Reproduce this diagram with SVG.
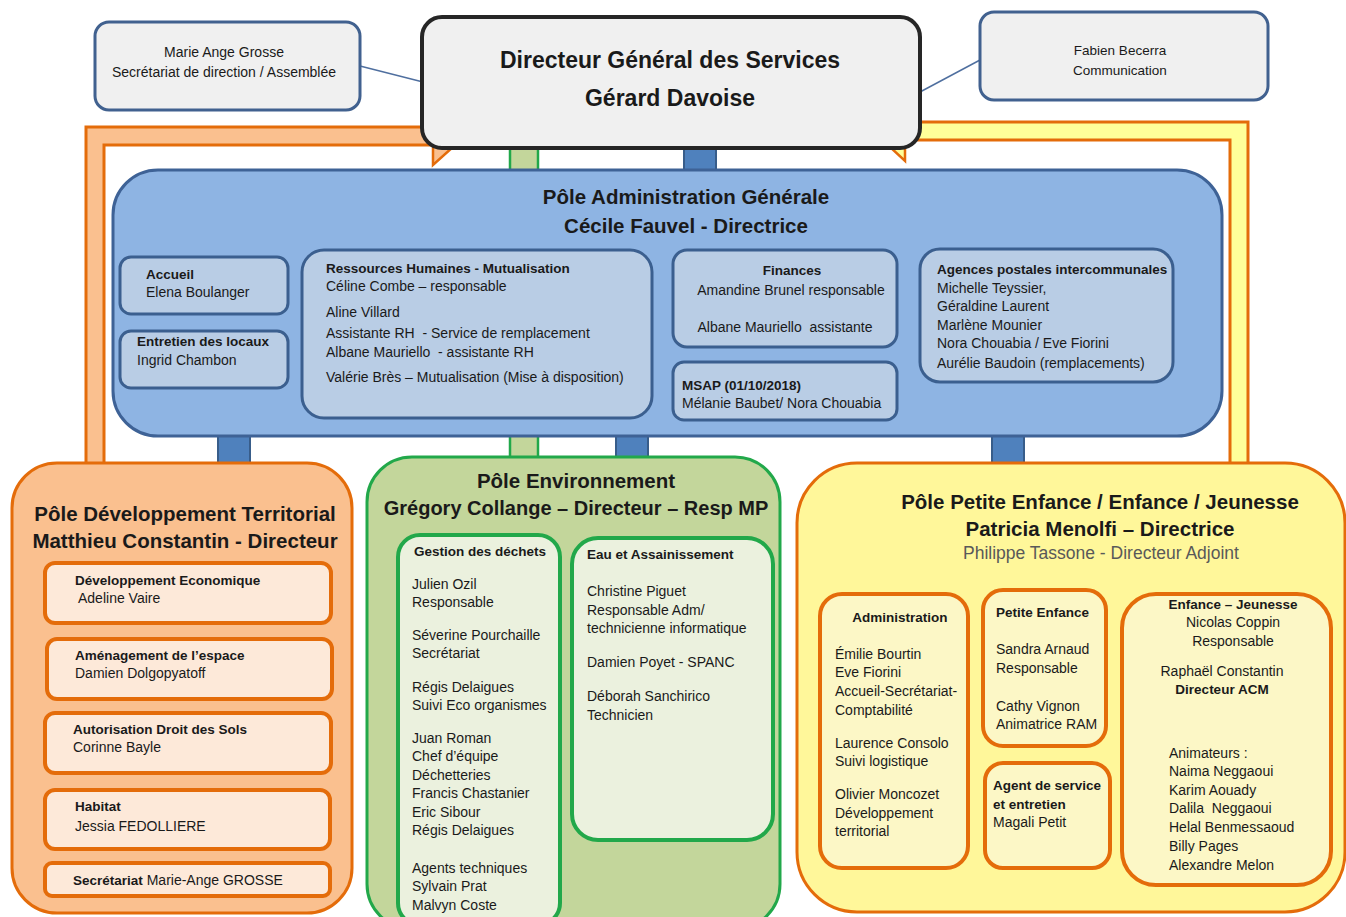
<svg xmlns="http://www.w3.org/2000/svg" width="1346" height="917" viewBox="0 0 1346 917">
<style>
text{font-family:"Liberation Sans",Arial,sans-serif;fill:#1a1a1a}
.t{font-size:14px}
.b{font-size:13.5px;font-weight:bold}
.h{font-size:20.5px;font-weight:bold}
.c{text-anchor:middle}
.side{fill:#f0f0f0;stroke:#41618f;stroke-width:3}
.adm{fill:#8eb4e3;stroke:#3e6296;stroke-width:3}
.admi{fill:#b9cde5;stroke:#3b5f8f;stroke-width:3}
.dev{fill:#fac08f;stroke:#e46c0a;stroke-width:3}
.devi{fill:#fde9d9;stroke:#e46c0a;stroke-width:4}
.env{fill:#c3d69b;stroke:#22a84a;stroke-width:3}
.envi{fill:#ebf1de;stroke:#22a84a;stroke-width:4}
.pe{fill:#fff79a;stroke:#e46c0a;stroke-width:3}
.pei{fill:#fcf7c6;stroke:#e46c0a;stroke-width:4}
.cb{fill:#4f81bd;stroke:#385d8a;stroke-width:2}
.cg{fill:#c3d69b;stroke:#22a84a;stroke-width:2.5}
</style>
<rect width="1346" height="917" fill="#ffffff"/>
<g id="connectors">
  <line x1="360" y1="66" x2="423" y2="82" stroke="#4f6f9f" stroke-width="1.5"/>
  <line x1="980" y1="60" x2="920" y2="92" stroke="#4f6f9f" stroke-width="1.5"/>
  <path d="M86,466 V127 H445 V145 H104 V466 Z" fill="#fac08f" stroke="#e46c0a" stroke-width="3"/>
  <polygon points="433,138 463,138 433,165" fill="#fac08f" stroke="#e46c0a" stroke-width="2.5"/>
  <path d="M1248,466 V122 H905 V140 H1230 V466 Z" fill="#ffff99" stroke="#e46c0a" stroke-width="3"/>
  <polygon points="905,134 876,134 905,161" fill="#ffff99" stroke="#e46c0a" stroke-width="2.5"/>
  <rect class="cg" x="510" y="140" width="28" height="34"/>
  <rect class="cb" x="684" y="140" width="32" height="34"/>
  <rect class="cb" x="218" y="430" width="32" height="36"/>
  <rect class="cg" x="510" y="430" width="28" height="30"/>
  <rect class="cb" x="616" y="430" width="32" height="30"/>
  <rect class="cb" x="992" y="430" width="32" height="36"/>
</g>
<g id="marie">
  <rect class="side" x="95" y="22" width="265" height="88" rx="14"/>
  <text class="t c" x="224" y="57">Marie Ange Grosse</text>
  <text class="t c" x="224" y="77">Secrétariat de direction / Assemblée</text>
</g>
<g id="fabien">
  <rect class="side" x="980" y="12" width="288" height="88" rx="14"/>
  <text class="t c" x="1120" y="55" style="font-size:13.5px">Fabien Becerra</text>
  <text class="t c" x="1120" y="75" style="font-size:13.5px">Communication</text>
</g>
<g id="dgs">
  <rect x="422" y="17" width="498" height="131" rx="20" fill="#f0f0f0" stroke="#262626" stroke-width="4"/>
  <text class="c" x="670" y="68" style="font-size:23px;font-weight:bold">Directeur Général des Services</text>
  <text class="c" x="670" y="106" style="font-size:23px;font-weight:bold">Gérard Davoise</text>
</g>
<g id="pole-admin">
  <rect class="adm" x="113" y="170" width="1109" height="266" rx="45"/>
  <text class="h c" x="686" y="204">Pôle Administration Générale</text>
  <text class="h c" x="686" y="233">Cécile Fauvel - Directrice</text>
</g>
<g id="accueil">
  <rect class="admi" x="120" y="257" width="168" height="57" rx="11"/>
  <text class="b" x="146" y="279">Accueil</text>
  <text class="t" x="146" y="297">Elena Boulanger</text>
</g>
<g id="entretien">
  <rect class="admi" x="120" y="331" width="168" height="57" rx="11"/>
  <text class="b" x="137" y="346">Entretien des locaux</text>
  <text class="t" x="137" y="365">Ingrid Chambon</text>
</g>
<g id="rh">
  <rect class="admi" x="302" y="250" width="350" height="168" rx="22"/>
  <text class="b" x="326" y="273">Ressources Humaines - Mutualisation</text>
  <text class="t" x="326" y="291">Céline Combe – responsable</text>
  <text class="t" x="326" y="317">Aline Villard</text>
  <text class="t" x="326" y="338" xml:space="preserve">Assistante RH  - Service de remplacement</text>
  <text class="t" x="326" y="357" xml:space="preserve">Albane Mauriello  - assistante RH</text>
  <text class="t" x="326" y="382">Valérie Brès – Mutualisation (Mise à disposition)</text>
</g>
<g id="finances">
  <rect class="admi" x="673" y="250" width="224" height="97" rx="14"/>
  <text class="b c" x="792" y="275">Finances</text>
  <text class="t c" x="791" y="295">Amandine Brunel responsable</text>
  <text class="t c" x="785" y="332" xml:space="preserve">Albane Mauriello  assistante</text>
</g>
<g id="msap">
  <rect class="admi" x="673" y="362" width="224" height="58" rx="11"/>
  <text class="b" x="682" y="390">MSAP (01/10/2018)</text>
  <text class="t" x="682" y="408">Mélanie Baubet/ Nora Chouabia</text>
</g>
<g id="agences">
  <rect class="admi" x="920" y="249" width="253" height="133" rx="20"/>
  <text class="b" x="937" y="274">Agences postales intercommunales</text>
  <text class="t" x="937" y="293">Michelle Teyssier,</text>
  <text class="t" x="937" y="311">Géraldine Laurent</text>
  <text class="t" x="937" y="330">Marlène Mounier</text>
  <text class="t" x="937" y="348">Nora Chouabia / Eve Fiorini</text>
  <text class="t" x="937" y="368">Aurélie Baudoin (remplacements)</text>
</g>
<g id="pole-dev">
  <rect class="dev" x="12" y="463" width="340" height="450" rx="45"/>
  <text class="h c" x="185" y="521">Pôle Développement Territorial</text>
  <text class="h c" x="185" y="548">Matthieu Constantin - Directeur</text>
</g>
<g id="dev-eco">
  <rect class="devi" x="45" y="563" width="286" height="60" rx="10"/>
  <text class="b" x="75" y="585">Développement Economique</text>
  <text class="t" x="78" y="603">Adeline Vaire</text>
</g>
<g id="amenagement">
  <rect class="devi" x="47" y="639" width="285" height="60" rx="10"/>
  <text class="b" x="75" y="660">Aménagement de l’espace</text>
  <text class="t" x="75" y="678">Damien Dolgopyatoff</text>
</g>
<g id="ads">
  <rect class="devi" x="45" y="713" width="286" height="60" rx="10"/>
  <text class="b" x="73" y="734">Autorisation Droit des Sols</text>
  <text class="t" x="73" y="752">Corinne Bayle</text>
</g>
<g id="habitat">
  <rect class="devi" x="45" y="790" width="285" height="59" rx="10"/>
  <text class="b" x="75" y="811">Habitat</text>
  <text class="t" x="75" y="831">Jessia FEDOLLIERE</text>
</g>
<g id="secretariat">
  <rect class="devi" x="45" y="863" width="285" height="33" rx="7"/>
  <text x="73" y="885"><tspan class="b">Secrétariat</tspan><tspan class="t"> Marie-Ange GROSSE</tspan></text>
</g>
<g id="pole-env">
  <rect class="env" x="367" y="457" width="413" height="472" rx="45"/>
  <text class="h c" x="576" y="488">Pôle Environnement</text>
  <text class="h c" x="576" y="515" style="font-size:20px">Grégory Collange – Directeur – Resp MP</text>
</g>
<g id="dechets">
  <rect class="envi" x="398" y="535" width="162" height="390" rx="22"/>
  <text class="b c" x="480" y="556">Gestion des déchets</text>
  <text class="t" x="412" y="589">Julien Ozil</text>
  <text class="t" x="412" y="607">Responsable</text>
  <text class="t" x="412" y="640">Séverine Pourchaille</text>
  <text class="t" x="412" y="658">Secrétariat</text>
  <text class="t" x="412" y="692">Régis Delaigues</text>
  <text class="t" x="412" y="710">Suivi Eco organismes</text>
  <text class="t" x="412" y="743">Juan Roman</text>
  <text class="t" x="412" y="761">Chef d’équipe</text>
  <text class="t" x="412" y="780">Déchetteries</text>
  <text class="t" x="412" y="798">Francis Chastanier</text>
  <text class="t" x="412" y="817">Eric Sibour</text>
  <text class="t" x="412" y="835">Régis Delaigues</text>
  <text class="t" x="412" y="873">Agents techniques</text>
  <text class="t" x="412" y="891">Sylvain Prat</text>
  <text class="t" x="412" y="910">Malvyn Coste</text>
</g>
<g id="eau">
  <rect class="envi" x="572" y="538" width="201" height="302" rx="26"/>
  <text class="b" x="587" y="559">Eau et Assainissement</text>
  <text class="t" x="587" y="596">Christine Piguet</text>
  <text class="t" x="587" y="615">Responsable Adm/</text>
  <text class="t" x="587" y="633">technicienne informatique</text>
  <text class="t" x="587" y="667">Damien Poyet - SPANC</text>
  <text class="t" x="587" y="701">Déborah Sanchirico</text>
  <text class="t" x="587" y="720">Technicien</text>
</g>
<g id="pole-pe">
  <rect class="pe" x="797" y="463" width="548" height="449" rx="60"/>
  <text class="h c" x="1100" y="509">Pôle Petite Enfance / Enfance / Jeunesse</text>
  <text class="h c" x="1100" y="536">Patricia Menolfi – Directrice</text>
  <text class="c" x="1101" y="559" style="font-size:17.5px;fill:#595959">Philippe Tassone - Directeur Adjoint</text>
</g>
<g id="pe-admin">
  <rect class="pei" x="820" y="594" width="148" height="274" rx="22"/>
  <text class="b c" x="900" y="622">Administration</text>
  <text class="t" x="835" y="659">Émilie Bourtin</text>
  <text class="t" x="835" y="677">Eve Fiorini</text>
  <text class="t" x="835" y="696">Accueil-Secrétariat-</text>
  <text class="t" x="835" y="715">Comptabilité</text>
  <text class="t" x="835" y="748">Laurence Consolo</text>
  <text class="t" x="835" y="766">Suivi logistique</text>
  <text class="t" x="835" y="799">Olivier Moncozet</text>
  <text class="t" x="835" y="818">Développement</text>
  <text class="t" x="835" y="836">territorial</text>
</g>
<g id="petite-enfance">
  <rect class="pei" x="983" y="590" width="123" height="156" rx="20"/>
  <text class="b" x="996" y="617">Petite Enfance</text>
  <text class="t" x="996" y="654">Sandra Arnaud</text>
  <text class="t" x="996" y="673">Responsable</text>
  <text class="t" x="996" y="711">Cathy Vignon</text>
  <text class="t" x="996" y="729">Animatrice RAM</text>
</g>
<g id="agent-service">
  <rect class="pei" x="985" y="763" width="125" height="105" rx="18"/>
  <text class="b" x="993" y="790">Agent de service</text>
  <text class="b" x="993" y="809">et entretien</text>
  <text class="t" x="993" y="827">Magali Petit</text>
</g>
<g id="enfance-jeunesse">
  <rect class="pei" x="1122" y="594" width="209" height="291" rx="34"/>
  <text class="b c" x="1233" y="609">Enfance – Jeunesse</text>
  <text class="t c" x="1233" y="627">Nicolas Coppin</text>
  <text class="t c" x="1233" y="646">Responsable</text>
  <text class="t c" x="1222" y="676">Raphaël Constantin</text>
  <text class="b c" x="1222" y="694">Directeur ACM</text>
  <text class="t" x="1169" y="758">Animateurs :</text>
  <text class="t" x="1169" y="776">Naima Neggaoui</text>
  <text class="t" x="1169" y="795">Karim Aouady</text>
  <text class="t" x="1169" y="813" xml:space="preserve">Dalila  Neggaoui</text>
  <text class="t" x="1169" y="832">Helal Benmessaoud</text>
  <text class="t" x="1169" y="851">Billy Pages</text>
  <text class="t" x="1169" y="870">Alexandre Melon</text>
</g>
</svg>
